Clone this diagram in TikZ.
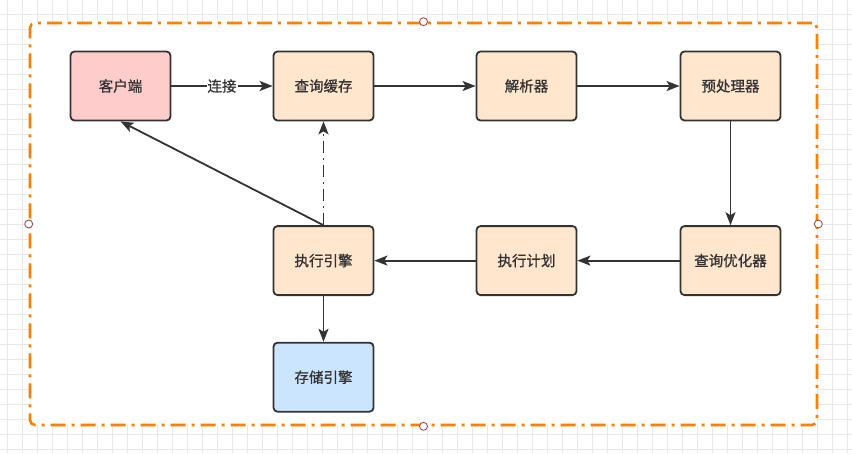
\documentclass[tikz,border=0pt]{standalone}
\usepackage{fontspec}
\newfontfamily\cjk[FakeBold=1]{Noto Sans CJK SC}
\usetikzlibrary{positioning,arrows.meta}
\definecolor{linegray}{HTML}{333333}
\definecolor{gridgray}{HTML}{E8E8E8}
\definecolor{frameorange}{HTML}{FF8000}
\definecolor{handlered}{HTML}{9A3B3B}
\definecolor{clientpink}{HTML}{FFCCCC}
\definecolor{boxorange}{HTML}{FFE6CC}
\definecolor{storeblue}{HTML}{CCE5FF}

\begin{document}
\begin{tikzpicture}[x=1pt, y=-1pt,
    box/.style={draw=linegray, line width=1.8pt, rounded corners=4pt, fill=boxorange,
        minimum width=100pt, minimum height=69pt, inner sep=0pt,
        text=linegray, font=\cjk\fontsize{14.5}{16}\selectfont},
    arr/.style={draw=linegray, line width=1.8pt, -{Stealth[length=13pt, width=10pt, inset=3pt]}},
    handle/.style={circle, draw=handlered, fill=white, line width=0.8pt, minimum size=8pt, inner sep=0pt}]

    \useasboundingbox (0,0) rectangle (852,453);

    % raster im hintergrund
    \foreach \x in {7,22,...,847}
        \draw[gridgray, line width=1pt] (\x,0) -- (\x,453);
    \foreach \y in {14,29,...,449}
        \draw[gridgray, line width=1pt] (0,\y) -- (852,\y);

    % rahmen
    \node[draw=frameorange, fill=white, line width=2.6pt, rounded corners=5pt,
        dash pattern=on 15pt off 6pt on 3pt off 6pt,
        minimum width=787pt, minimum height=402pt, inner sep=0pt] (frame) at (423.5,224) {};

    \node[box, fill=clientpink] (client) at (120.5,86) {客户端};
    \node[box, right=101.2pt of client] (cache) {查询缓存};
    \node[box, right=101.2pt of cache] (parser) {解析器};
    \node[box, right=102.2pt of parser] (prep) {预处理器};
    \node[box, below=103.8pt of prep] (opt) {查询优化器};
    \node[box, left=102.2pt of opt] (plan) {执行计划};
    \node[box, left=101.2pt of plan] (exec) {执行引擎};
    \node[box, fill=storeblue, below=45.8pt of exec] (store) {存储引擎};

    \draw[arr] (client) -- node[fill=white, inner sep=1pt, text=linegray,
        font=\cjk\fontsize{14.5}{16}\selectfont] (conn) {连接} (cache);
    \draw[arr] (cache) -- (parser);
    \draw[arr] (parser) -- (prep);
    \draw[arr] (prep) -- (opt);
    \draw[arr] (opt) -- (plan);
    \draw[arr] (plan) -- (exec);
    \draw[arr, dash pattern=on 12pt off 5pt on 2pt off 5pt] (exec) -- (cache);
    \draw[arr] (exec.north) -- (client.south);
    \draw[arr] (exec) -- (store);

    % auswahlpunkte
    \node[handle] (hn) at (frame.north) {};
    \node[handle] (hs) at (frame.south) {};
    \node[handle] (hw) at (frame.west) {};
    \node[handle] (he) at (frame.east) {};
\end{tikzpicture}
\end{document}
